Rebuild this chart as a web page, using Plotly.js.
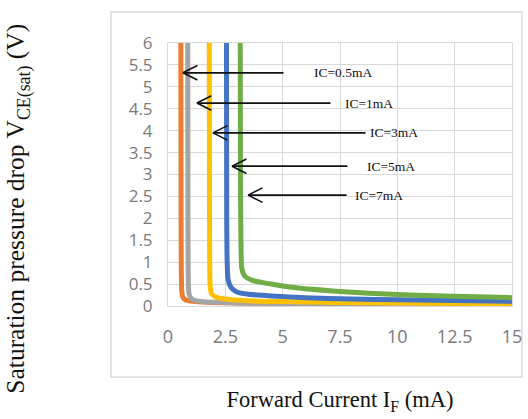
<!DOCTYPE html>
<html>
<head>
<meta charset="utf-8">
<script src="https://cdn.plot.ly/plotly-3.0.1.min.js"></script>
<style>html,body{margin:0;padding:0;background:#fff;}#chart{width:528px;height:419px;}</style>
</head>
<body>
<div id="chart"></div>
<script>
// Series data (Forward current I_F in mA, V_CE(sat) in V)
const seriesNames = ["IC=0.5mA", "IC=1mA", "IC=3mA", "IC=5mA", "IC=7mA"];
const seriesColors = ["#ED7D31", "#A5A5A5", "#FFC000", "#4472C4", "#70AD47"];

const xOrange = [0.56, 0.57, 0.58, 0.60, 0.65, 0.80, 1.2, 2.0, 4.0, 7.0, 10.0, 15.0];
const yOrange = [6.0, 2.0, 0.80, 0.35, 0.20, 0.13, 0.10, 0.08, 0.06, 0.05, 0.04, 0.03];

const xGray = [0.86, 0.87, 0.88, 0.90, 0.95, 1.1, 1.5, 2.5, 4.0, 7.0, 10.0, 15.0];
const yGray = [6.0, 2.0, 0.80, 0.35, 0.22, 0.14, 0.10, 0.08, 0.06, 0.05, 0.04, 0.03];

const xYellow = [1.80, 1.81, 1.82, 1.84, 1.90, 2.1, 2.5, 3.5, 5.0, 7.5, 10.0, 15.0];
const yYellow = [6.0, 2.0, 0.90, 0.45, 0.28, 0.20, 0.16, 0.12, 0.10, 0.08, 0.07, 0.05];

const xBlue = [2.55, 2.56, 2.58, 2.62, 2.75, 3.0, 3.5, 4.5, 6.0, 8.0, 10.0, 15.0];
const yBlue = [6.0, 2.0, 1.0, 0.60, 0.42, 0.32, 0.27, 0.23, 0.19, 0.16, 0.14, 0.11];

const xGreen = [3.15, 3.16, 3.18, 3.22, 3.35, 3.7, 4.5, 5.5, 7.5, 10.0, 12.5, 15.0];
const yGreen = [6.0, 3.0, 1.5, 0.85, 0.68, 0.58, 0.50, 0.42, 0.33, 0.26, 0.22, 0.19];

const xs = [xOrange, xGray, xYellow, xBlue, xGreen];
const ys = [yOrange, yGray, yYellow, yBlue, yGreen];

// Arrow annotations: head (x,y), tail x, label left x
const arrowHeadX = [0.65, 1.26, 1.96, 2.79, 3.49];
const arrowY = [5.32, 4.63, 3.95, 3.19, 2.53];
const arrowTailX = [5.10, 7.15, 8.68, 7.89, 7.85];
const labelX = [6.28, 7.63, 8.72, 8.59, 8.07];

const xTicks = [0, 2.5, 5, 7.5, 10, 12.5, 15];
const yTicks = [0, 0.5, 1, 1.5, 2, 2.5, 3, 3.5, 4, 4.5, 5, 5.5, 6];

const traces = xs.map((x, i) => ({
  type: "scatter", mode: "lines", x: x, y: ys[i], name: seriesNames[i],
  line: {color: seriesColors[i], width: 5, shape: "spline", smoothing: 0.6},
  showlegend: false, hoverinfo: "skip"
}));

const serif = "Liberation Serif, Times New Roman, serif";
const annotations = [];
for (let i = 0; i < seriesNames.length; i++) {
  // shaft
  annotations.push({
    x: arrowHeadX[i], y: arrowY[i], ax: arrowTailX[i], ay: arrowY[i],
    xref: "x", yref: "y", axref: "x", ayref: "y",
    text: "", showarrow: true, arrowhead: 0, arrowwidth: 1.8,
    arrowcolor: "#111", standoff: 0, startstandoff: 0
  });
  // open chevron head (two arms, pixel offsets from the tip)
  [-1, 1].forEach(s => annotations.push({
    x: arrowHeadX[i], y: arrowY[i], xref: "x", yref: "y",
    ax: 16, ay: 8 * s, text: "", showarrow: true, arrowhead: 0,
    arrowwidth: 1.6, arrowcolor: "#111", standoff: 0
  }));
  annotations.push({
    x: labelX[i], y: arrowY[i], xref: "x", yref: "y", xanchor: "left", yanchor: "middle",
    text: seriesNames[i], showarrow: false,
    font: {family: serif, size: 13.5, color: "#111"}
  });
}
annotations.push({
  xref: "paper", yref: "paper", x: -0.436, y: 0.37, xanchor: "center", yanchor: "middle",
  textangle: -90, showarrow: false,
  text: "Saturation pressure drop V<sub>CE(sat)</sub> (V)",
  font: {family: serif, size: 25.5, color: "#111"}
});

const layout = {
  width: 528, height: 419,
  margin: {l: 168, r: 16, t: 43, b: 113},
  paper_bgcolor: "#fff", plot_bgcolor: "#fff",
  showlegend: false,
  xaxis: {
    range: [0, 15], tickvals: xTicks, ticktext: xTicks.map(String),
    showgrid: true, gridcolor: "#d9d9d9", gridwidth: 1, zeroline: false,
    showline: true, linecolor: "#d9d9d9", mirror: true, ticks: "",
    ticklabelstandoff: 14,
    tickfont: {family: "Open Sans, sans-serif", size: 18, color: "#7a7a7a"},
    title: {text: "Forward Current I<sub>F</sub> (mA)", standoff: 44,
            font: {family: serif, size: 22.5, color: "#111"}},
    fixedrange: true
  },
  yaxis: {
    range: [0, 6], tickvals: yTicks, ticktext: yTicks.map(String),
    showgrid: true, gridcolor: "#d9d9d9", gridwidth: 1, zeroline: false,
    showline: true, linecolor: "#d9d9d9", mirror: true, ticks: "",
    ticklabelstandoff: 11,
    tickfont: {family: "Open Sans, sans-serif", size: 17, color: "#7a7a7a"},
    fixedrange: true
  },
  shapes: [{
    type: "rect", xref: "paper", yref: "paper", layer: "below",
    x0: -0.1657, x1: 1.029, y0: -0.27, y1: 1.118,
    line: {color: "#d9d9d9", width: 1.5}, fillcolor: "rgba(0,0,0,0)"
  }],
  annotations: annotations
};

Plotly.newPlot("chart", traces, layout, {displayModeBar: false, staticPlot: true});
</script>
</body>
</html>
